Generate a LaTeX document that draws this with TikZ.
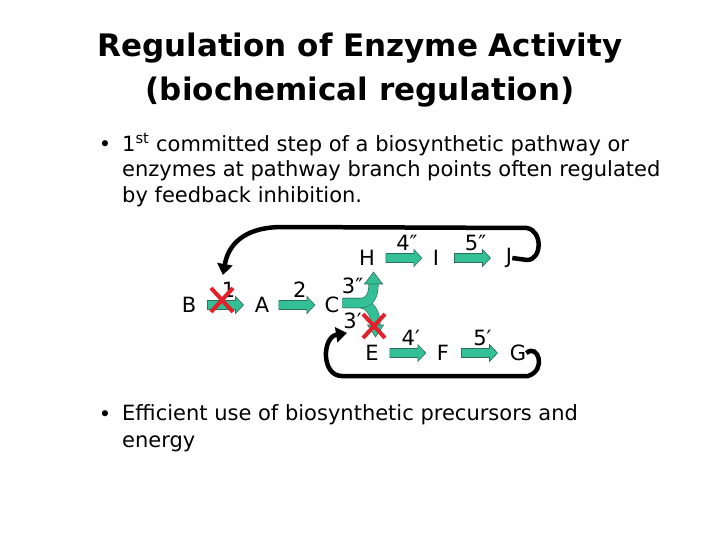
\documentclass[tikz,border=0pt]{standalone}
\usepackage{fontspec}
\setmainfont{DejaVu Sans}
\usetikzlibrary{positioning,calc,arrows.meta}
\definecolor{flow}{HTML}{33C096}
\definecolor{flowline}{HTML}{2F6E5A}
\definecolor{stop}{HTML}{E4202A}
\tikzset{flowarr/.style={fill=flow, draw=flowline, line width=0.6pt}}
% green step arrow between two metabolites, #3 = enzyme number
\newcommand\flowstep[3]{%
  \begin{scope}[shift={($(#1.east)!0.5!(#2.west)$)}]
    \draw[flowarr] (-18,-4.5) -- (10,-4.5) -- (10,-8.5) -- (18,0) -- (10,8.5) -- (10,4.5) -- (-18,4.5) -- cycle;
    \node[lbl] (e#3) at (3,-15) {#3};
  \end{scope}}

\begin{document}
\begin{tikzpicture}[x=1pt, y=-1pt,
      met/.style={font=\fontsize{21}{21}\selectfont, inner sep=0pt},
      lbl/.style={font=\fontsize{21}{21}\selectfont, inner sep=0pt},
      body/.style={font=\fontsize{21}{25.8}\selectfont, align=left, inner sep=0pt, anchor=north west},
      feedback/.style={line width=4.5pt, -{Triangle[width=15pt,length=11pt]}},
      branch/.style={double=flow, double distance=9pt, draw=flowline, line width=0.6pt},
      stopx/.style={draw=stop, line width=4pt}]
    \useasboundingbox (0,0) rectangle (720,540);
    % headings
    \node[font=\fontsize{31}{44}\selectfont\bfseries, align=center] (ttl) at (360,70)
      {Regulation of Enzyme Activity\\(biochemical regulation)};
    \node[lbl] (dot1) at (105,146) {•};
    \node[body] (txt1) at (122,133) {1\textsuperscript{st} committed step of a biosynthetic pathway or\\
      enzymes at pathway branch points often regulated\\by feedback inhibition.};
    \node[lbl] (dot2) at (105,416) {•};
    \node[body, font=\fontsize{21}{27.5}\selectfont] (txt2) at (122,404) {Efficient use of biosynthetic precursors and\\energy};
    % metabolites
    \foreach \nm/\px/\py in {B/189/305, A/262/305, C/332/305, H/367/258, I/436/258, J/509/258,
                             E/372/353, F/443/353, G/518/353}
      \node[met] (\nm) at (\px,\py) {\nm};
    % enzyme steps
    \flowstep{B}{A}{1}  \flowstep{A}{C}{2}
    \flowstep{H}{I}{4″} \flowstep{I}{J}{5″}
    \flowstep{E}{F}{4′} \flowstep{F}{G}{5′}
    % branch point at C
    \begin{scope}[shift={(C.east)}]
      \draw[branch] (3,-2) -- (20,-2) .. controls (30,-1) and (36,7) .. (36,20);
      \draw[flowarr] (28,20) -- (44,20) -- (36,32) -- cycle;
      \draw[branch] (3,-2) -- (20,-2) .. controls (30,-2) and (34,-9) .. (34,-21);
      \draw[flowarr] (25,-21) -- (43,-21) -- (34,-33) -- cycle;
      \node[lbl] (e3b) at (13,-19) {3″};
      \node[lbl] (e3a) at (13,16) {3′};
    \end{scope}
    % feedback inhibition
    \draw[feedback] (J.east) -- (527,260) .. controls (542,260) and (543,231) .. (527,228)
      -- (282,227) .. controls (250,227) and (229,240) .. (223,275);
    \draw[feedback] (G.east) .. controls (538,343) and (547,370) .. (528,376)
      -- (342,376) .. controls (321,376) and (322,337) .. (347,333);
    % inhibited steps
    \foreach \cx/\cy in {222/300, 374/326}
      \draw[stopx] (\cx-11,\cy-12) -- (\cx+11,\cy+12) (\cx-11,\cy+12) -- (\cx+11,\cy-12);
  \end{tikzpicture}
\end{document}
